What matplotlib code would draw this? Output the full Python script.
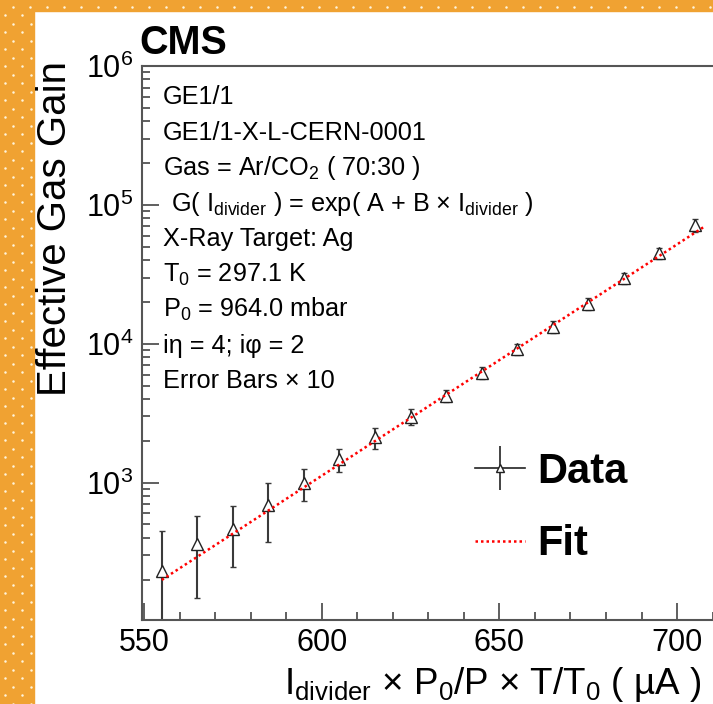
import numpy as np
import matplotlib
matplotlib.use('Agg')
import matplotlib.pyplot as plt
from matplotlib.lines import Line2D
from matplotlib.patches import Rectangle
from matplotlib.ticker import MultipleLocator, LogLocator, LogFormatterMathtext, NullFormatter
from matplotlib.legend_handler import HandlerTuple

plt.rcParams['font.family'] = ['Liberation Sans', 'DejaVu Sans']
plt.rcParams['mathtext.fontset'] = 'custom'
plt.rcParams['mathtext.rm'] = 'Liberation Sans'
plt.rcParams['mathtext.it'] = 'Liberation Sans:italic'
plt.rcParams['mathtext.bf'] = 'Liberation Sans:bold'

# 분압기 전류 (보정값) [uA]
current = [555, 565, 575, 585, 595, 605, 615, 625, 635, 645, 655, 665, 675, 685, 695, 705]
# 유효 기체 이득
gain = [232, 362, 464, 687, 1002, 1471, 2118, 2991, 4222, 6168, 9143,
        13296, 19400, 29760, 44950, 71550]
# 오차 (x10 적용)
gain_err = [217, 214, 216, 313, 260, 277, 370, 387, 430, 611, 830,
            1384, 1875, 2780, 4320, 7330]

# 피팅 파라미터 G = exp(A + B*I)
fit_A = -16.00
fit_B = 0.03837
fit_range = [555, 708]

info_lines = [
    'GE1/1',
    'GE1/1-X-L-CERN-0001',
    r'Gas = Ar/CO$_{\mathrm{2}}$ ( 70:30 )',
    r'G( I$_{\mathrm{divider}}$ ) = exp( A + B × I$_{\mathrm{divider}}$ )',
    'X-Ray Target: Ag',
    r'T$_{\mathrm{0}}$ = 297.1 K',
    r'P$_{\mathrm{0}}$ = 964.0 mbar',
    'iη = 4; iφ = 2',
    'Error Bars × 10',
]

W, H = 713, 704


def fx(px):
    return px / W


def fy(py):
    return 1 - py / H


fig = plt.figure(figsize=(W / 100, H / 100), dpi=100)

# 배경 테두리 (주황색 + 흰 점)
orange = '#f0a232'
fig.patches.append(Rectangle((0, 0), fx(34), 1, transform=fig.transFigure,
                             color=orange, zorder=0))
fig.patches.append(Rectangle((0, fy(11)), 1, 11 / H, transform=fig.transFigure,
                             color=orange, zorder=0))
dot_x, dot_y = [], []
for k in range(45):
    dot_x.append(13.3 + 17 * k)
    dot_y.append(6.7)
for j in range(1, 84):
    yy = 6.7 + 8.5 * j
    xs = [5, 22.3] if j % 2 else [13.3, 30.7]
    for xx in xs:
        dot_x.append(xx)
        dot_y.append(yy)
fig.add_artist(Line2D([fx(v) for v in dot_x], [fy(v) for v in dot_y], ls='none',
                      marker='o', ms=1.8, color='#fff4dc', mew=0,
                      transform=fig.transFigure))

left, right, top, bottom = 141.7, 748.2, 66, 620
ax = fig.add_axes([fx(left), fy(bottom), (right - left) / W, (bottom - top) / H])

ax.errorbar(current, gain, yerr=gain_err, fmt='^', ms=8.5, mfc='white', mec='#222222',
            mew=1.0, ecolor='#3a3a3a', elinewidth=1.5, capsize=2.5, capthick=1.5,
            zorder=2)

x_fit = np.linspace(fit_range[0], fit_range[1], 200)
ax.plot(x_fit, np.exp(fit_A + fit_B * x_fit), color='#ff0000', lw=1.8,
        dashes=(1, 1.2), zorder=3)

ax.set_yscale('log')
ax.set_xlim(549.35, 720)
ax.set_ylim(102.6, 1e6)

ax.xaxis.set_major_locator(MultipleLocator(50))
ax.xaxis.set_minor_locator(MultipleLocator(10))
ax.yaxis.set_major_locator(LogLocator(base=10))
ax.yaxis.set_major_formatter(LogFormatterMathtext())
ax.yaxis.set_minor_locator(LogLocator(base=10, subs=np.arange(2, 10)))
ax.yaxis.set_minor_formatter(NullFormatter())

ax.tick_params(which='both', direction='in', top=False, right=False,
               color='#444444', width=1.2, labelsize=22)
ax.tick_params(which='major', length=12, pad=6)
ax.tick_params(which='minor', length=6)
for s in ax.spines.values():
    s.set_color('#555555')
    s.set_linewidth(1.5)

# 축 제목
fig.text(fx(55), fy(61), 'Effective Gas Gain', rotation=90, ha='center', va='top',
         fontsize=29)
fig.text(fx(284), fy(694), r'I$_{\mathrm{divider}}$ × P$_{\mathrm{0}}$/P × T/T$_{\mathrm{0}}$ ( µA )',
         ha='left', va='baseline', fontsize=26.5)
fig.text(fx(139), fy(54), 'CMS', fontweight='bold', fontsize=28.5, ha='left', va='baseline')

for i, line in enumerate(info_lines):
    xx = 171 if line.startswith('G(') else 163
    fig.text(fx(xx), fy(104 + 35.5 * i), line, fontsize=18.2, ha='left', va='baseline')

# 범례
h_line = Line2D([], [], color='#222222', lw=1.2)
v_line = Line2D([], [], color='#222222', marker='|', ms=31, mew=1.2, ls='none')
tri = Line2D([], [], marker='^', ms=6, mfc='white', mec='#222222', mew=1.0, ls='none')
fit_h = Line2D([], [], color='#ff0000', lw=1.8, dashes=(1, 1.2))
leg = ax.legend([(h_line, v_line, tri), fit_h], ['Data', 'Fit'],
                handler_map={tuple: HandlerTuple(ndivide=1)},
                loc='center left', bbox_to_anchor=(fx(475), fy(508)),
                bbox_transform=fig.transFigure, frameon=False, borderpad=0,
                borderaxespad=0, handlelength=1.2, handletextpad=0.3,
                labelspacing=0.78, prop={'weight': 'bold', 'size': 30})

fig.savefig('out.png', dpi=100)
